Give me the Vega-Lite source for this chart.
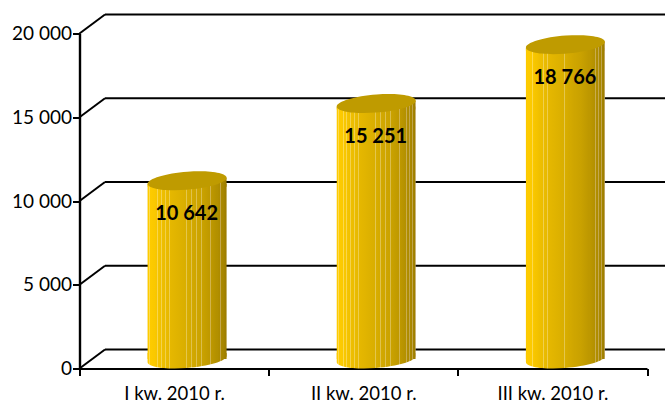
{
"$schema":"https://vega.github.io/schema/vega-lite/v6.json",
"width":567.5,"height":335,
"autosize":{"type":"none"},
"padding":{"left":79.5,"top":33.5,"right":18,"bottom":34.5},
"background":"white",
"config":{"view":{"stroke":null}},
"datasets":{
"sales":[{"quarter":"I kw. 2010 r.","value":10642},{"quarter":"II kw. 2010 r.","value":15251},{"quarter":"III kw. 2010 r.","value":18766}],
"grid":[{"level":0},{"level":5000},{"level":10000},{"level":15000},{"level":20000}]
},
"layer":[
{"data":{"name":"grid"},"mark":{"type":"rule","color":"#000000","strokeWidth":2,"xOffset":25.5,"x2Offset":18,"yOffset":-19,"y2Offset":-19},
 "encoding":{"x":{"value":0},"x2":{"value":{"expr":"width"}},"y":{"field":"level","type":"quantitative","scale":{"domain":[0,20000],"nice":false},
  "axis":{"title":null,"values":[0,5000,10000,15000,20000],"labelExpr":"replace(format(datum.value,','),',',' ')","labelFont":"Lato","labelFontSize":19,"labelColor":"#000000","labelPadding":1,"tickSize":7,"tickWidth":2,"tickColor":"#000000","domainWidth":2.4,"domainColor":"#000000","grid":false}},"y2":{"field":"level"}}},
{"data":{"name":"grid"},"mark":{"type":"rule","color":"#000000","strokeWidth":2,"x2Offset":25.5,"y2Offset":-19},
 "encoding":{"x":{"value":0},"x2":{"value":0},"y":{"field":"level","type":"quantitative"},"y2":{"field":"level"}}},
{"data":{"name":"sales"},
 "transform":[{"calculate":"replace(format(datum.value,','),',',' ')","as":"label"}],
 "encoding":{"x":{"field":"quarter","type":"nominal","sort":null,"scale":{"paddingInner":0,"paddingOuter":0},"axis":{"title":null,"labelAngle":0,"labelFont":"Lato","labelFontSize":18.5,"labelColor":"#000000","labelPadding":8.5,"tickBand":"extent","tickSize":7,"tickWidth":2,"tickColor":"#000000","domainWidth":2,"domainColor":"#000000"}}},
 "layer":[
{"mark":{"type":"bar","size":79,"xOffset":13,"yOffset":-6.5,"y2Offset":-9.5,
  "fill":{"gradient":"linear","x1":0,"x2":1,"y1":0,"y2":0,"stops":[{"offset":0,"color":"#F2C200"},{"offset":0.01,"color":"#FFCC00"},{"offset":0.021,"color":"#FECB00"},{"offset":0.021,"color":"#FEDB4D"},{"offset":0.031,"color":"#FEDB4D"},{"offset":0.031,"color":"#FECB00"},{"offset":0.076,"color":"#FBC900"},{"offset":0.076,"color":"#FCD94D"},{"offset":0.086,"color":"#FCD94D"},{"offset":0.086,"color":"#FBC900"},{"offset":0.122,"color":"#F5C400"},{"offset":0.122,"color":"#F8D64D"},{"offset":0.132,"color":"#F8D64D"},{"offset":0.132,"color":"#F5C400"},{"offset":0.173,"color":"#EFBF00"},{"offset":0.173,"color":"#F4D24D"},{"offset":0.183,"color":"#F4D24D"},{"offset":0.183,"color":"#EFBF00"},{"offset":0.219,"color":"#EBBC00"},{"offset":0.219,"color":"#F1D04D"},{"offset":0.229,"color":"#F1D04D"},{"offset":0.229,"color":"#EBBC00"},{"offset":0.27,"color":"#E6B800"},{"offset":0.27,"color":"#EECD4D"},{"offset":0.28,"color":"#EECD4D"},{"offset":0.28,"color":"#E6B800"},{"offset":0.485,"color":"#D9AE00"},{"offset":0.485,"color":"#E4C64D"},{"offset":0.495,"color":"#E4C64D"},{"offset":0.495,"color":"#D9AE00"},{"offset":0.553,"color":"#D3A900"},{"offset":0.553,"color":"#E0C24D"},{"offset":0.563,"color":"#E0C24D"},{"offset":0.563,"color":"#D3A900"},{"offset":0.616,"color":"#CEA500"},{"offset":0.616,"color":"#DDBF4D"},{"offset":0.626,"color":"#DDBF4D"},{"offset":0.626,"color":"#CEA500"},{"offset":0.679,"color":"#CAA200"},{"offset":0.679,"color":"#DABD4D"},{"offset":0.689,"color":"#DABD4D"},{"offset":0.689,"color":"#CAA200"},{"offset":0.793,"color":"#BE9800"},{"offset":0.793,"color":"#D1B34D"},{"offset":0.803,"color":"#D1B34D"},{"offset":0.803,"color":"#BE9800"},{"offset":0.873,"color":"#B39000"},{"offset":0.873,"color":"#C9AC4D"},{"offset":0.883,"color":"#C9AC4D"},{"offset":0.883,"color":"#B39000"},{"offset":0.916,"color":"#AC8A00"},{"offset":0.916,"color":"#C4A74D"},{"offset":0.926,"color":"#C4A74D"},{"offset":0.926,"color":"#AC8A00"},{"offset":0.949,"color":"#A78600"},{"offset":0.949,"color":"#C0A44D"},{"offset":0.959,"color":"#C0A44D"},{"offset":0.959,"color":"#A78600"},{"offset":0.987,"color":"#9E7E00"},{"offset":0.987,"color":"#B99D4D"},{"offset":0.997,"color":"#B99D4D"},{"offset":0.997,"color":"#9A7B00"},{"offset":1,"color":"#9A7B00"}]}},
 "encoding":{"y":{"field":"value","type":"quantitative","stack":null},"y2":{"datum":0}}},
{"mark":{"type":"point","filled":true,"opacity":1,"size":4,"xOffset":13,"yOffset":-9.5,"shape":"M-39.5,2.9 A39.6,9 -4.56 0 0 39.5,-2.9 L39.5,-6 L-39.5,-6 Z",
  "fill":{"gradient":"linear","x1":0,"x2":1,"y1":0,"y2":0,"stops":[{"offset":0,"color":"#F2C200"},{"offset":0.01,"color":"#FFCC00"},{"offset":0.021,"color":"#FECB00"},{"offset":0.021,"color":"#FEDB4D"},{"offset":0.031,"color":"#FEDB4D"},{"offset":0.031,"color":"#FECB00"},{"offset":0.076,"color":"#FBC900"},{"offset":0.076,"color":"#FCD94D"},{"offset":0.086,"color":"#FCD94D"},{"offset":0.086,"color":"#FBC900"},{"offset":0.122,"color":"#F5C400"},{"offset":0.122,"color":"#F8D64D"},{"offset":0.132,"color":"#F8D64D"},{"offset":0.132,"color":"#F5C400"},{"offset":0.173,"color":"#EFBF00"},{"offset":0.173,"color":"#F4D24D"},{"offset":0.183,"color":"#F4D24D"},{"offset":0.183,"color":"#EFBF00"},{"offset":0.219,"color":"#EBBC00"},{"offset":0.219,"color":"#F1D04D"},{"offset":0.229,"color":"#F1D04D"},{"offset":0.229,"color":"#EBBC00"},{"offset":0.27,"color":"#E6B800"},{"offset":0.27,"color":"#EECD4D"},{"offset":0.28,"color":"#EECD4D"},{"offset":0.28,"color":"#E6B800"},{"offset":0.485,"color":"#D9AE00"},{"offset":0.485,"color":"#E4C64D"},{"offset":0.495,"color":"#E4C64D"},{"offset":0.495,"color":"#D9AE00"},{"offset":0.553,"color":"#D3A900"},{"offset":0.553,"color":"#E0C24D"},{"offset":0.563,"color":"#E0C24D"},{"offset":0.563,"color":"#D3A900"},{"offset":0.616,"color":"#CEA500"},{"offset":0.616,"color":"#DDBF4D"},{"offset":0.626,"color":"#DDBF4D"},{"offset":0.626,"color":"#CEA500"},{"offset":0.679,"color":"#CAA200"},{"offset":0.679,"color":"#DABD4D"},{"offset":0.689,"color":"#DABD4D"},{"offset":0.689,"color":"#CAA200"},{"offset":0.793,"color":"#BE9800"},{"offset":0.793,"color":"#D1B34D"},{"offset":0.803,"color":"#D1B34D"},{"offset":0.803,"color":"#BE9800"},{"offset":0.873,"color":"#B39000"},{"offset":0.873,"color":"#C9AC4D"},{"offset":0.883,"color":"#C9AC4D"},{"offset":0.883,"color":"#B39000"},{"offset":0.916,"color":"#AC8A00"},{"offset":0.916,"color":"#C4A74D"},{"offset":0.926,"color":"#C4A74D"},{"offset":0.926,"color":"#AC8A00"},{"offset":0.949,"color":"#A78600"},{"offset":0.949,"color":"#C0A44D"},{"offset":0.959,"color":"#C0A44D"},{"offset":0.959,"color":"#A78600"},{"offset":0.987,"color":"#9E7E00"},{"offset":0.987,"color":"#B99D4D"},{"offset":0.997,"color":"#B99D4D"},{"offset":0.997,"color":"#9A7B00"},{"offset":1,"color":"#9A7B00"}]}},
 "encoding":{"y":{"datum":0,"type":"quantitative"}}},
{"mark":{"type":"point","filled":true,"opacity":1,"size":4,"xOffset":13,"yOffset":-9.5,"shape":"M-39.5,3.2 L39.5,-2.9 L39.5,6 L-39.5,6 Z",
  "fill":{"gradient":"linear","x1":0,"x2":1,"y1":0,"y2":0,"stops":[{"offset":0,"color":"#F2C200"},{"offset":0.01,"color":"#FFCC00"},{"offset":0.021,"color":"#FECB00"},{"offset":0.021,"color":"#FEDB4D"},{"offset":0.031,"color":"#FEDB4D"},{"offset":0.031,"color":"#FECB00"},{"offset":0.076,"color":"#FBC900"},{"offset":0.076,"color":"#FCD94D"},{"offset":0.086,"color":"#FCD94D"},{"offset":0.086,"color":"#FBC900"},{"offset":0.122,"color":"#F5C400"},{"offset":0.122,"color":"#F8D64D"},{"offset":0.132,"color":"#F8D64D"},{"offset":0.132,"color":"#F5C400"},{"offset":0.173,"color":"#EFBF00"},{"offset":0.173,"color":"#F4D24D"},{"offset":0.183,"color":"#F4D24D"},{"offset":0.183,"color":"#EFBF00"},{"offset":0.219,"color":"#EBBC00"},{"offset":0.219,"color":"#F1D04D"},{"offset":0.229,"color":"#F1D04D"},{"offset":0.229,"color":"#EBBC00"},{"offset":0.27,"color":"#E6B800"},{"offset":0.27,"color":"#EECD4D"},{"offset":0.28,"color":"#EECD4D"},{"offset":0.28,"color":"#E6B800"},{"offset":0.485,"color":"#D9AE00"},{"offset":0.485,"color":"#E4C64D"},{"offset":0.495,"color":"#E4C64D"},{"offset":0.495,"color":"#D9AE00"},{"offset":0.553,"color":"#D3A900"},{"offset":0.553,"color":"#E0C24D"},{"offset":0.563,"color":"#E0C24D"},{"offset":0.563,"color":"#D3A900"},{"offset":0.616,"color":"#CEA500"},{"offset":0.616,"color":"#DDBF4D"},{"offset":0.626,"color":"#DDBF4D"},{"offset":0.626,"color":"#CEA500"},{"offset":0.679,"color":"#CAA200"},{"offset":0.679,"color":"#DABD4D"},{"offset":0.689,"color":"#DABD4D"},{"offset":0.689,"color":"#CAA200"},{"offset":0.793,"color":"#BE9800"},{"offset":0.793,"color":"#D1B34D"},{"offset":0.803,"color":"#D1B34D"},{"offset":0.803,"color":"#BE9800"},{"offset":0.873,"color":"#B39000"},{"offset":0.873,"color":"#C9AC4D"},{"offset":0.883,"color":"#C9AC4D"},{"offset":0.883,"color":"#B39000"},{"offset":0.916,"color":"#AC8A00"},{"offset":0.916,"color":"#C4A74D"},{"offset":0.926,"color":"#C4A74D"},{"offset":0.926,"color":"#AC8A00"},{"offset":0.949,"color":"#A78600"},{"offset":0.949,"color":"#C0A44D"},{"offset":0.959,"color":"#C0A44D"},{"offset":0.959,"color":"#A78600"},{"offset":0.987,"color":"#9E7E00"},{"offset":0.987,"color":"#B99D4D"},{"offset":0.997,"color":"#B99D4D"},{"offset":0.997,"color":"#9A7B00"},{"offset":1,"color":"#9A7B00"}]}},
 "encoding":{"y":{"field":"value","type":"quantitative"}}},
{"mark":{"type":"point","filled":true,"opacity":1,"size":4,"xOffset":13,"yOffset":-9.5,"fill":"#BF9B00","shape":"M-39.5,2.9 A39.6,9 -4.56 1 1 39.5,-2.9 A39.6,9 -4.56 1 1 -39.5,2.9 Z"},
 "encoding":{"y":{"field":"value","type":"quantitative"}}},
{"mark":{"type":"text","font":"Lato","fontWeight":"bold","fontSize":20,"color":"#000000","xOffset":12.5,"yOffset":24},
 "encoding":{"y":{"field":"value","type":"quantitative"},"text":{"field":"label"}}}
 ]}
]
}
